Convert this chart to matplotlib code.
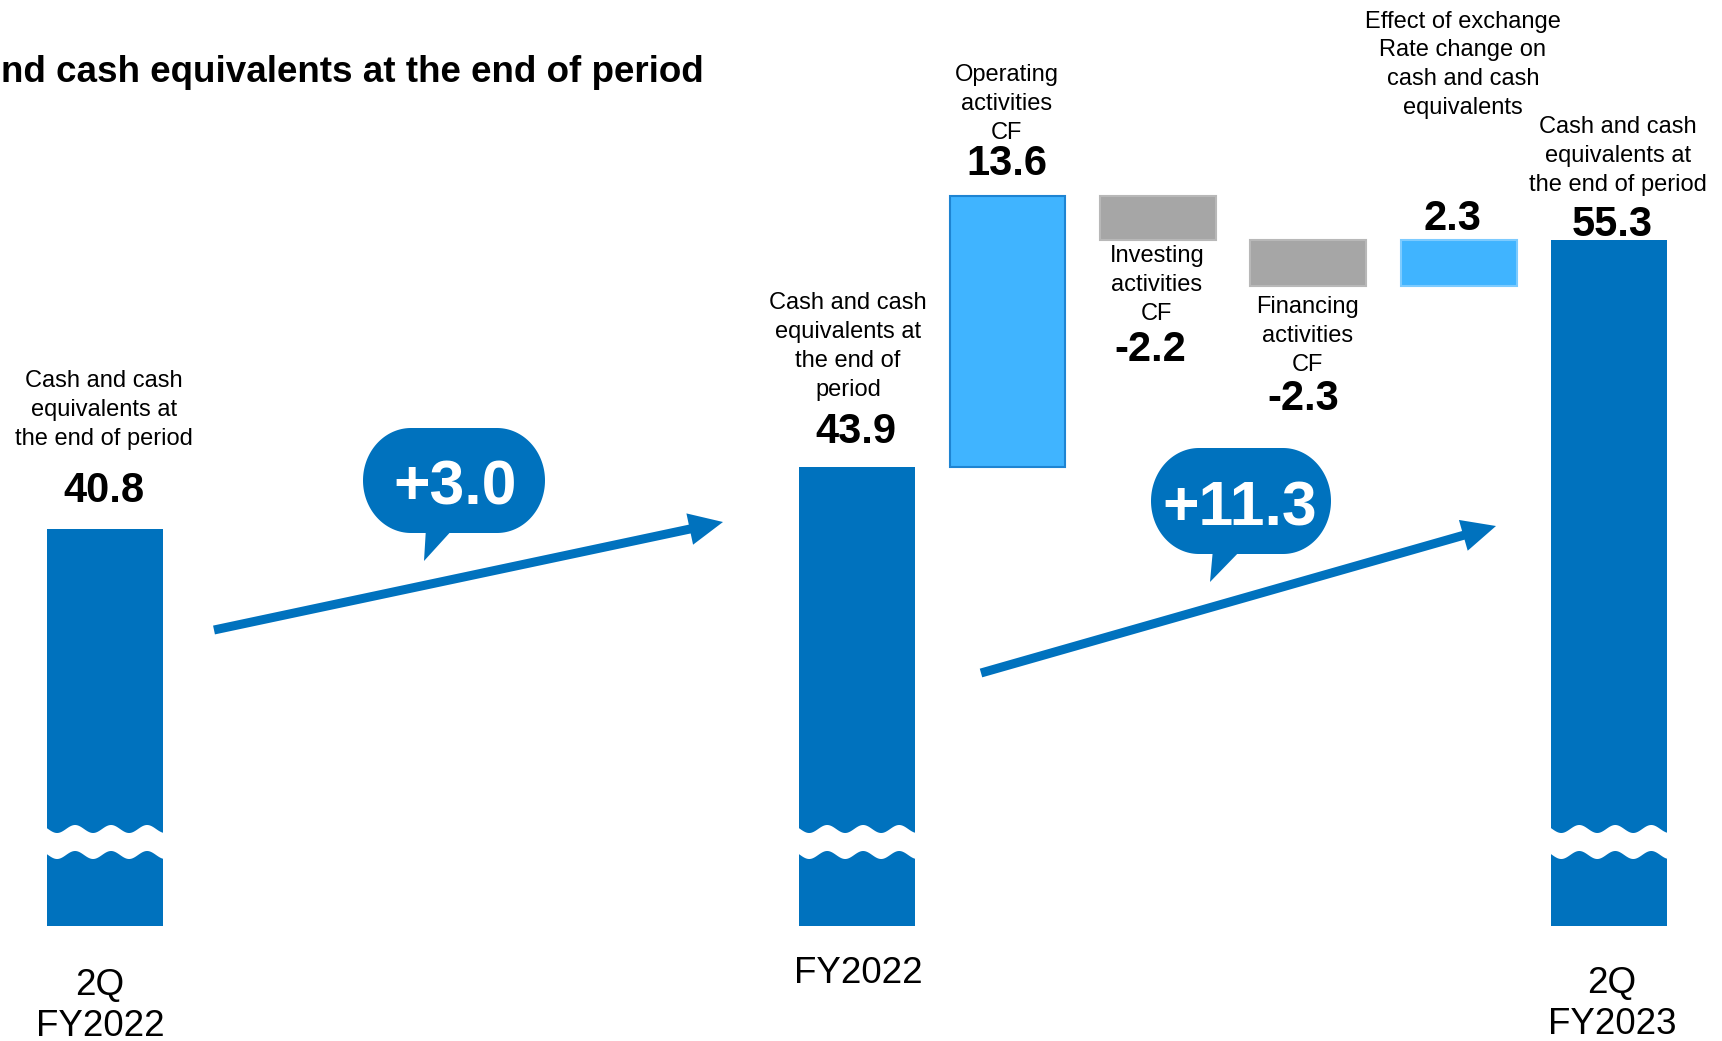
import numpy as np
import matplotlib
matplotlib.use("Agg")
import matplotlib.pyplot as plt
from matplotlib.patches import Polygon, FancyArrow

plt.rcParams['font.family'] = ['Liberation Sans', 'DejaVu Sans']

# ---------------- data ----------------
categories = ["2Q\nFY2022", "FY2022", "Operating", "Investing", "Financing", "FX", "2Q\nFY2023"]
positions = [0, 5, 6, 7, 8, 9, 10]
start_2q22 = 40.8
start_fy22 = 43.9
deltas = [13.6, -2.2, -2.3, 2.3]
end_2q23 = 55.3
bubble_values = ["+3.0", "+11.3"]
bar_texts = [
    "Cash and cash\nequivalents at\nthe end of period",
    "Cash and cash\nequivalents at\nthe end of\nperiod",
    "Operating\nactivities\nCF",
    "Investing\nactivities\nCF",
    "Financing\nactivities\nCF",
    "Effect of exchange\nRate change on\ncash and cash\nequivalents",
    "Cash and cash\nequivalents at\nthe end of period",
]
title = "nd cash equivalents at the end of period"

# ---------------- style ----------------
DARK = '#0072BE'
LIGHT = '#40B4FF'
GRAY = '#A6A6A6'
W, H = 1722, 1041
XMIN, XMAX = -0.698, 10.75
YMIN, YMAX = 15.11, 67.34
BASE = 20.88
BW = 0.77

fig = plt.figure(figsize=(W / 100, H / 100), dpi=100)
ax = fig.add_axes([0, 0, 1, 1])
ax.set_xlim(XMIN, XMAX)
ax.set_ylim(YMIN, YMAX)
ax.axis('off')

# waterfall geometry
level = start_fy22
float_bottoms, float_tops = [], []
for d in deltas:
    nxt = level + d
    float_bottoms.append(min(level, nxt))
    float_tops.append(max(level, nxt))
    level = nxt

# total bars
ax.bar(positions[0], start_2q22 - BASE, bottom=BASE, width=BW, color=DARK, zorder=2)
ax.bar(positions[1], start_fy22 - BASE, bottom=BASE, width=BW, color=DARK, zorder=2)
ax.bar(positions[6], end_2q23 - BASE, bottom=BASE, width=BW, color=DARK, zorder=2)
# floating bars
fcolors = [LIGHT, GRAY, GRAY, LIGHT]
fedges = ['#1E84D2', '#B8B8B8', '#B8B8B8', '#7CCBFF']
for i, d in enumerate(deltas):
    ax.bar(positions[2 + i], float_tops[i] - float_bottoms[i], bottom=float_bottoms[i],
           width=BW, color=fcolors[i], edgecolor=fedges[i], linewidth=1.5, zorder=2)

SMALL = 17
VAL = 30
LS = 1.41

def lab(x, y, dx, dy, s, **kw):
    ax.annotate(s, xy=(x, y), xytext=(dx, dy), textcoords='offset pixels',
                ha='center', va='center', **kw)

tops_all = [start_2q22, start_fy22] + float_tops + [end_2q23]
values_txt = [f"{start_2q22:.1f}", f"{start_fy22:.1f}"] + [f"{d:.1f}" for d in deltas] + [f"{end_2q23:.1f}"]

# labels above bars
above = {0: (-1, 38, -1, 119), 1: (-1, 35, -9, 121), 2: (-1, 32, -1, 92),
         5: (-6, 21, 4, 175), 6: (3, 15, 9, 84)}
for i, (vdx, vdy, ldx, ldy) in above.items():
    lab(positions[i], tops_all[i], vdx, vdy, values_txt[i], fontsize=VAL, fontweight='bold')
    lab(positions[i], tops_all[i], ldx, ldy, bar_texts[i], fontsize=SMALL, linespacing=LS)
# labels below negative bars
below = {3: (-8, -110, -1, -45), 4: (-5, -113, -1, -50)}
for i, (vdx, vdy, ldx, ldy) in below.items():
    b = float_bottoms[i - 2]
    lab(positions[i], b, vdx, vdy, values_txt[i], fontsize=VAL, fontweight='bold')
    lab(positions[i], b, ldx, ldy, bar_texts[i], fontsize=SMALL, linespacing=LS)

# category labels
ax.annotate(categories[0], xy=(positions[0], BASE), xytext=(-5, -80), textcoords='offset pixels',
            ha='center', va='center', fontsize=26.5, linespacing=1.25)
ax.annotate(categories[1], xy=(positions[1], BASE), xytext=(1, -48), textcoords='offset pixels',
            ha='center', va='center', fontsize=26.5)
ax.annotate(categories[6], xy=(positions[6], BASE), xytext=(3, -78), textcoords='offset pixels',
            ha='center', va='center', fontsize=26.5, linespacing=1.25)

# ---------------- overlay in pixel space ----------------
ov = fig.add_axes([0, 0, 1, 1])
ov.set_xlim(0, W)
ov.set_ylim(H, 0)
ov.axis('off')
ov.patch.set_alpha(0)

def xpix(x):
    return (x - XMIN) / (XMAX - XMIN) * W

# axis-break waves
for i in (0, 1, 6):
    xl = xpix(positions[i] - BW / 2) - 2
    xr = xpix(positions[i] + BW / 2) + 2
    xs = np.linspace(xl, xr, 200)
    ytop = 829 - 4 * np.cos(2 * np.pi * (xs - xl - 30) / 36)
    ybot = ytop + 26
    poly = np.vstack([np.column_stack([xs, ytop]), np.column_stack([xs[::-1], ybot[::-1]])])
    ov.add_patch(Polygon(poly, closed=True, facecolor='white', edgecolor='none', zorder=5))

# title (partially visible, as in the reference)
ov.text(704, 82, title, ha='right', va='baseline', fontsize=26.5, fontweight='bold')

# arrows
for (x0, y0, x1, y1) in [(214, 630, 723, 522), (981, 673, 1496, 526)]:
    ov.add_patch(FancyArrow(x0, y0, x1 - x0, y1 - y0, width=9, head_width=32, head_length=34,
                            length_includes_head=True, color=DARK, linewidth=0, zorder=4))

def pill(x0, y0, bw, bh, rx, ry, n=40):
    pts = []
    corners = [(x0 + bw - rx, y0 + ry, -np.pi / 2, 0),
               (x0 + bw - rx, y0 + bh - ry, 0, np.pi / 2),
               (x0 + rx, y0 + bh - ry, np.pi / 2, np.pi),
               (x0 + rx, y0 + ry, np.pi, 1.5 * np.pi)]
    for cx, cy, a0, a1 in corners:
        t = np.linspace(a0, a1, n)
        pts.append(np.column_stack([cx + rx * np.cos(t), cy + ry * np.sin(t)]))
    return np.vstack(pts)

# bubbles
bubbles = [
    dict(box=(363, 428, 182, 105), tail=[(426, 528), (454, 528), (424, 561)], txt=(455, 488)),
    dict(box=(1151, 448, 180, 106), tail=[(1213, 549), (1242, 549), (1210, 582)], txt=(1240, 509)),
]
for b, s in zip(bubbles, bubble_values):
    x0, y0, bw, bh = b['box']
    ov.add_patch(Polygon(pill(x0, y0, bw, bh, 48, bh / 2), closed=True, facecolor=DARK,
                         edgecolor='none', zorder=6))
    ov.add_patch(Polygon(b['tail'], closed=True, facecolor=DARK, edgecolor='none', zorder=6))
    ov.text(b['txt'][0], b['txt'][1], s, ha='center', va='center', color='white',
            fontsize=45, fontweight='bold', zorder=7)

fig.savefig("out.png", dpi=100)
